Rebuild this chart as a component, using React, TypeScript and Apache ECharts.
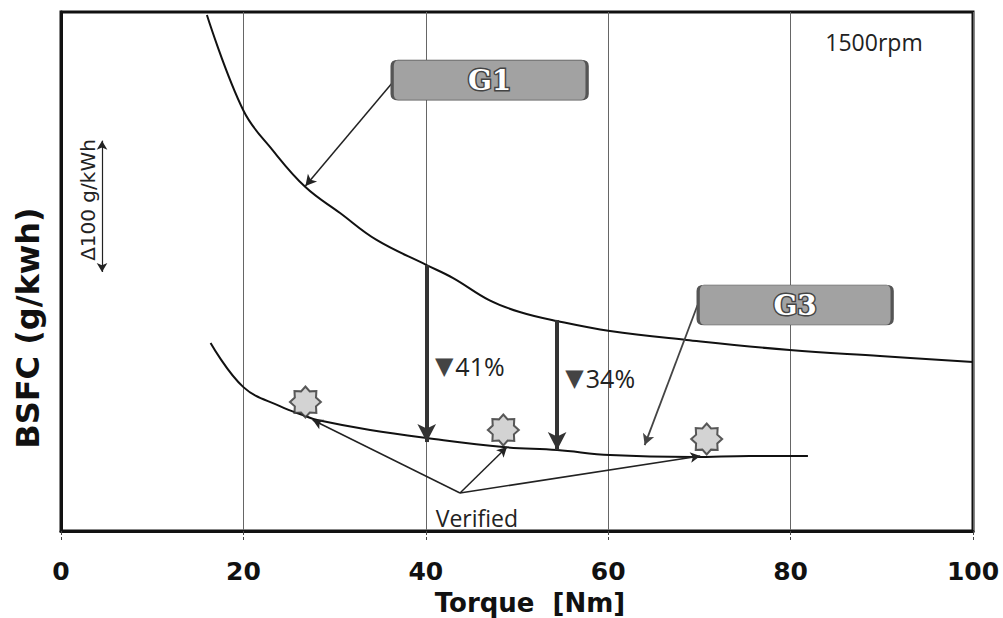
import React, { useEffect, useRef } from "react";
import * as echarts from "echarts";

// ---- Data ----
const torqueG1 = [16.0, 20.0, 23.2, 26.8, 30.6, 34.6, 40.1, 43.0, 47.0, 50.3, 54.4, 60.2, 68.6, 79.9, 89.8, 100];
const bsfcG1 = [512.7, 440.0, 409.9, 381.8, 362.0, 341.5, 322.4, 312.5, 295.5, 286.7, 279.8, 272.2, 265.4, 257.7, 253.2, 248.6];

const torqueG3 = [16.4, 20.0, 24.0, 26.8, 28.1, 33.9, 40.1, 48.5, 54.4, 60.2, 69.3, 75.5, 81.9];
const bsfcG3 = [263.1, 229.5, 215.0, 207.5, 204.5, 196.9, 190.8, 183.9, 181.6, 177.8, 176.3, 177.1, 177.1];

const verifiedTorque = [26.8, 48.5, 70.8];
const verifiedBsfc = [218.2, 196.9, 190.0];

const xTicks = [0, 20, 40, 60, 80, 100];

// reduction arrows
const reductionTorque = [40.1, 54.4];
const reductionFrom = [322.4, 280.6];
const reductionTo = [187.7, 181.6];
const reductionLabels = ["41%", "34%"];
const reductionLabelPos = [
  [41.0, 245.6],
  [55.3, 236.4],
];

// scale reference: 100 g/kWh
const deltaTorque = 4.5;
const deltaFrom = 317.1;
const deltaSize = 100;

// annotation anchors (data coordinates)
const g1Box = [47.0, 463.2];
const g3Box = [80.5, 292.0];
const g1Arrow = [
  [36.4, 461.7],
  [26.8, 382.5],
];
const g3Arrow = [
  [69.8, 292.0],
  [64.0, 185.4],
];
const verifiedVertex = [43.75, 148.9];
const verifiedTargets = [
  [27.6, 204.5],
  [48.9, 183.9],
  [70.1, 177.1],
];
const verifiedLabel = [45.6, 129.9];

function starPath(): string {
  const pts: string[] = [];
  for (let i = 0; i < 16; i++) {
    const r = i % 2 === 0 ? 10 : 7.4;
    const a = -Math.PI / 2 + (i * Math.PI) / 8;
    pts.push(`${(10 + r * Math.cos(a)).toFixed(2)},${(10 + r * Math.sin(a)).toFixed(2)}`);
  }
  return "path://M" + pts.join(" L") + " Z";
}

function roundRectPath(w: number, h: number, r: number): string {
  return (
    `path://M${r},0 L${w - r},0 Q${w},0 ${w},${r} L${w},${h - r} Q${w},${h} ${w - r},${h} ` +
    `L${r},${h} Q0,${h} 0,${h - r} L0,${r} Q0,0 ${r},0 Z`
  );
}

export default function App() {
  const ref = useRef<HTMLDivElement>(null);

  useEffect(() => {
    if (!ref.current) return;
    const chart = echarts.init(ref.current, null, { renderer: "svg" });

    const g1 = torqueG1.map((t, i) => [t, bsfcG1[i]]);
    const g3 = torqueG3.map((t, i) => [t, bsfcG3[i]]);
    const verified = verifiedTorque.map((t, i) => [t, verifiedBsfc[i]]);

    const thinLine = { color: "#222", width: 1.5, type: "solid" as const };

    const markLines: any[] = [];
    reductionTorque.forEach((t, i) => {
      markLines.push([
        { coord: [t, reductionFrom[i]], symbol: "none", lineStyle: { color: "#333", width: 4 } },
        { coord: [t, reductionTo[i]], symbol: "arrow", symbolSize: [14, 18] },
      ]);
    });
    markLines.push([
      { coord: g1Arrow[0], symbol: "none", lineStyle: { ...thinLine } },
      { coord: g1Arrow[1], symbol: "arrow", symbolSize: [9, 11] },
    ]);
    markLines.push([
      { coord: g3Arrow[0], symbol: "none", lineStyle: { color: "#444", width: 1.8 } },
      { coord: g3Arrow[1], symbol: "arrow", symbolSize: [9, 11] },
    ]);
    verifiedTargets.forEach((p) => {
      markLines.push([
        { coord: verifiedVertex, symbol: "none", lineStyle: { ...thinLine } },
        { coord: p, symbol: "arrow", symbolSize: [8, 10] },
      ]);
    });
    markLines.push([
      { coord: [deltaTorque, deltaFrom], symbol: "arrow", symbolSize: [8, 9], lineStyle: { color: "#222", width: 1.2 } },
      { coord: [deltaTorque, deltaFrom + deltaSize], symbol: "arrow", symbolSize: [8, 9] },
    ]);

    const boxLabel = {
      show: true,
      position: "inside",
      color: "#fff",
      fontSize: 28,
      fontWeight: "bold",
      fontFamily: "DejaVu Serif",
      textBorderColor: "#444",
      textBorderWidth: 3,
    };

    const markPoints: any[] = [
      {
        coord: g1Box,
        symbol: roundRectPath(195, 40, 6),
        symbolSize: [195, 40],
        itemStyle: { color: "#a2a2a2", borderColor: "#555", borderWidth: 1.5 },
        label: { ...boxLabel, formatter: "G1" },
      },
      {
        coord: g3Box,
        symbol: roundRectPath(194, 40, 6),
        symbolSize: [194, 40],
        itemStyle: { color: "#a2a2a2", borderColor: "#555", borderWidth: 1.5 },
        label: { ...boxLabel, formatter: "G3" },
      },
      ...reductionLabels.map((txt, i) => ({
        coord: reductionLabelPos[i],
        symbol: "circle",
        symbolSize: 0,
        label: {
          show: true,
          position: "right",
          distance: 0,
          formatter: `{t|▼}{v|${txt}}`,
          rich: {
            t: { color: "#444", fontSize: 24, fontFamily: "DejaVu Sans", padding: [0, 2, 0, 0] },
            v: { color: "#222", fontSize: 25, fontFamily: "Open Sans" },
          },
        },
      })),
      {
        coord: verifiedLabel,
        symbol: "circle",
        symbolSize: 0,
        label: {
          show: true,
          position: "inside",
          formatter: "Verified",
          color: "#222",
          fontSize: 23,
          fontFamily: "Open Sans",
        },
      },
    ];

    chart.setOption({
      animation: false,
      backgroundColor: "#fff",
      grid: {
        left: 61,
        right: 30,
        top: 12,
        bottom: 87,
        show: true,
        borderColor: "#111",
        borderWidth: 3,
      },
      xAxis: {
        type: "value",
        min: xTicks[0],
        max: xTicks[xTicks.length - 1],
        interval: 20,
        axisLine: { show: true, onZero: false, lineStyle: { color: "#111", width: 3 } },
        axisTick: { show: true, length: 9, lineStyle: { color: "#444", width: 1, type: "dashed" } },
        axisLabel: {
          color: "#111",
          fontSize: 25,
          fontWeight: "bold",
          fontFamily: "DejaVu Sans",
          margin: 28,
        },
        splitLine: { show: true, lineStyle: { color: "#666", width: 1 } },
      },
      yAxis: {
        type: "value",
        min: 120,
        max: 515,
        axisLine: { show: true, lineStyle: { color: "#111", width: 3 } },
        axisTick: { show: false },
        axisLabel: { show: false },
        splitLine: { show: false },
      },
      graphic: [
        {
          type: "text",
          x: 874,
          y: 42,
          style: {
            text: "1500rpm",
            fill: "#222",
            fontSize: 23,
            fontFamily: "Open Sans",
            align: "center",
            verticalAlign: "middle",
          },
        },
        {
          type: "text",
          x: 88,
          y: 200,
          rotation: Math.PI / 2,
          style: {
            text: "Δ100 g/kWh",
            fill: "#222",
            fontSize: 20,
            fontFamily: "DejaVu Sans",
            align: "center",
            verticalAlign: "middle",
          },
        },
        {
          type: "text",
          x: 28,
          y: 328,
          rotation: Math.PI / 2,
          style: {
            text: "BSFC (g/kwh)",
            fill: "#111",
            fontSize: 32,
            fontWeight: "bold",
            fontFamily: "DejaVu Sans",
            align: "center",
            verticalAlign: "middle",
          },
        },
        {
          type: "text",
          x: 530,
          y: 603,
          style: {
            text: "Torque  [Nm]",
            fill: "#111",
            fontSize: 26,
            fontWeight: "bold",
            fontFamily: "DejaVu Sans",
            align: "center",
            verticalAlign: "middle",
          },
        },
      ],
      series: [
        {
          name: "G1",
          type: "line",
          data: g1,
          smooth: 0.4,
          showSymbol: false,
          lineStyle: { color: "#111", width: 2 },
          silent: true,
          z: 3,
        },
        {
          name: "G3",
          type: "line",
          data: g3,
          smooth: 0.4,
          showSymbol: false,
          lineStyle: { color: "#111", width: 2 },
          silent: true,
          z: 3,
          markLine: {
            silent: true,
            animation: false,
            label: { show: false },
            lineStyle: { color: "#222", width: 1.5, type: "solid" },
            data: markLines,
          },
          markPoint: {
            silent: true,
            animation: false,
            data: markPoints,
          },
        },
        {
          name: "Verified",
          type: "scatter",
          data: verified,
          symbol: starPath(),
          symbolSize: 31,
          itemStyle: { color: "#c8c8c8", borderColor: "#333", borderWidth: 2 },
          silent: true,
          z: 5,
        },
      ],
    });

    return () => chart.dispose();
  }, []);

  return (
    <div
      ref={ref}
      style={{ position: "fixed", left: 0, top: 0, width: 1003, height: 618, background: "#fff" }}
    />
  );
}
